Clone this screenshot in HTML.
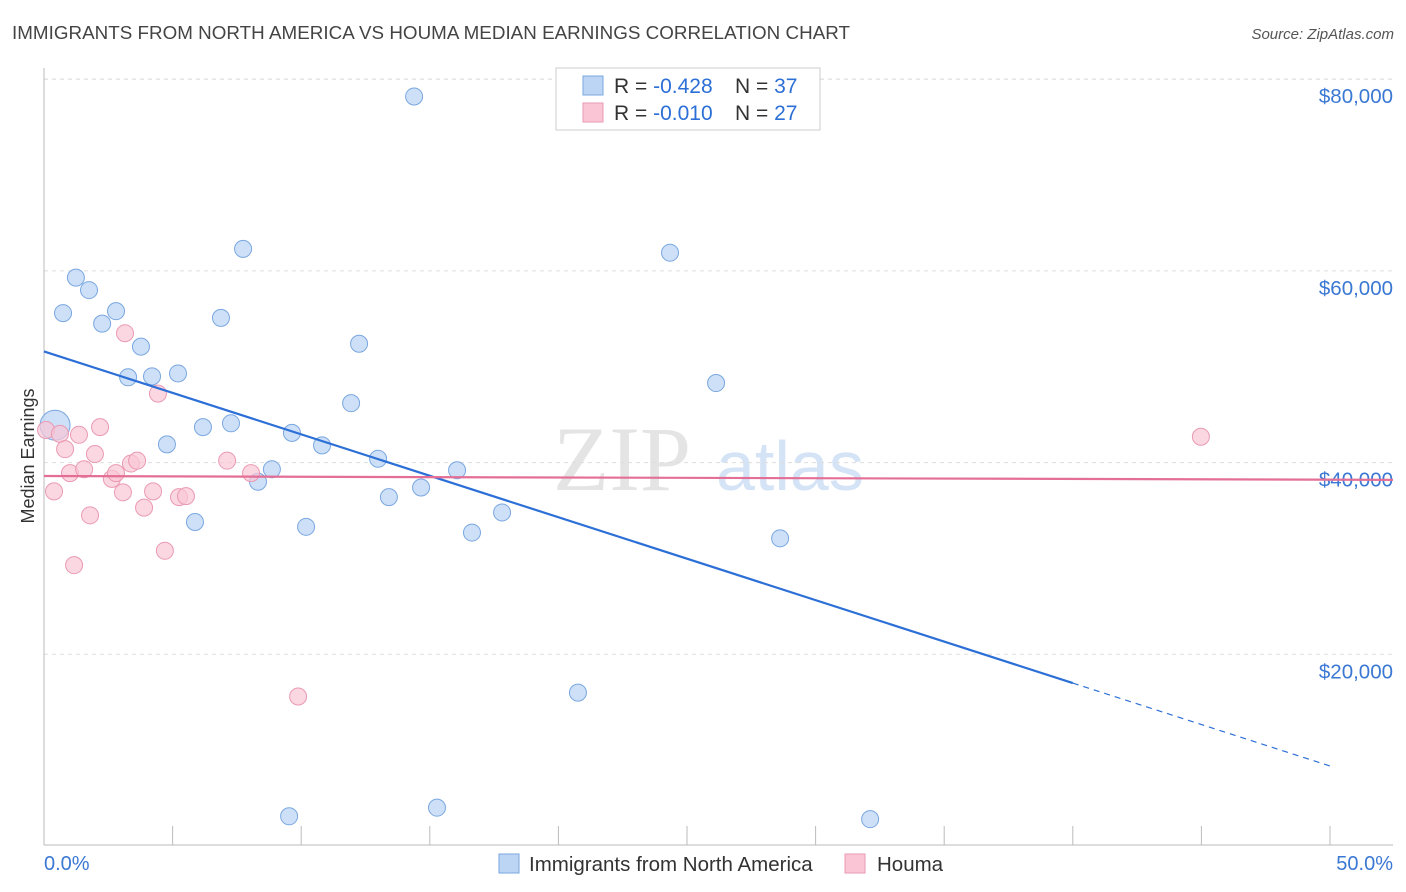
<!DOCTYPE html>
<html><head><meta charset="utf-8"><style>
body{margin:0;background:#fff;font-family:"Liberation Sans",sans-serif}
svg{display:block}
</style></head><body>
<svg id="chart" width="1406" height="892">
<text x="12" y="39" font-size="18.8" fill="#444" textLength="838">IMMIGRANTS FROM NORTH AMERICA VS HOUMA MEDIAN EARNINGS CORRELATION CHART</text>
<text x="1394" y="39" font-size="15" fill="#555" font-style="italic" text-anchor="end">Source: ZipAtlas.com</text>
<text x="0" y="0" font-size="18" fill="#333" transform="translate(34,456) rotate(-90)" text-anchor="middle">Median Earnings</text>
<g>
<text x="553" y="490" font-family="Liberation Serif,serif" font-size="92" fill="#e4e4e4">ZIP</text>
<text x="716" y="490" font-size="70" fill="#d4e3f5">atlas</text>
</g>
<g id="grid"></g><g id="axes"></g><g id="marks"></g>
<g>
<rect x="556" y="68" width="264" height="62" fill="#fff" stroke="#ccc"/>
<rect x="583" y="76" width="20" height="19" fill="#bcd5f5" stroke="#7aa7e0"/>
<rect x="583" y="103" width="20" height="19" fill="#fac6d6" stroke="#ea9ab3"/>
<text x="614" y="93" font-size="21" fill="#333">R = <tspan fill="#2c6fd6">-0.428</tspan><tspan x="735">N = </tspan><tspan fill="#2c6fd6">37</tspan></text>
<text x="614" y="120" font-size="21" fill="#333">R = <tspan fill="#2c6fd6">-0.010</tspan><tspan x="735">N = </tspan><tspan fill="#2c6fd6">27</tspan></text>
</g>
<g>
<rect x="499" y="854" width="20" height="19" fill="#bcd5f5" stroke="#7aa7e0"/>
<text x="529" y="871" font-size="20.5" fill="#333">Immigrants from North America</text>
<rect x="845" y="854" width="20" height="19" fill="#fac6d6" stroke="#ea9ab3"/>
<text x="877" y="871" font-size="20.5" fill="#333">Houma</text>
</g>
</svg>
<script>
const blueX=[0.43,0.74,1.24,1.75,2.26,2.80,3.27,3.77,4.20,4.78,5.21,5.87,6.18,6.88,7.27,7.74,8.32,8.86,9.53,9.64,10.19,10.81,11.94,12.25,12.99,13.41,14.39,14.66,15.28,16.06,16.64,17.81,20.76,24.34,26.13,28.62,32.12];
const blueY=[43.9,55.6,59.3,58.0,54.5,55.8,48.9,52.1,49.0,41.9,49.3,33.8,43.7,55.1,44.1,62.3,38.0,39.3,3.1,43.1,33.3,41.8,46.2,52.4,40.4,36.4,78.2,37.4,4.0,39.2,32.7,34.8,16.0,61.9,48.3,32.1,2.8];
const pinkX=[0.08,0.39,0.62,0.82,1.01,1.17,1.36,1.56,1.79,1.98,2.18,2.64,2.80,3.07,3.15,3.38,3.62,3.89,4.24,4.43,4.70,5.25,5.52,7.12,8.05,9.88,44.98];
const pinkY=[43.4,37.0,43.0,41.4,38.9,29.3,42.9,39.3,34.5,40.9,43.7,38.3,38.9,36.9,53.5,39.9,40.2,35.3,37.0,47.2,30.8,36.4,36.5,40.2,38.9,15.6,42.7];
const yTicks=[20,40,60,80];
const yTickLabels=["$20,000","$40,000","$60,000","$80,000"];
const blueLine=[51.6,17.0]; // fitted values at 0% and 40%
const pinkLine=[38.6,38.2]; // fitted values at 0% and 50%
const NS="http://www.w3.org/2000/svg";
const sx=p=>44+p*25.72, sy=v=>846-v*9.585;
function mk(t,a,parent){const e=document.createElementNS(NS,t);for(const k in a)e.setAttribute(k,a[k]);document.getElementById(parent).appendChild(e);return e;}
yTicks.forEach((t,i)=>{
 const g=mk('line',{x1:44,x2:1393,y1:sy(t),y2:sy(t),stroke:'#ddd','stroke-dasharray':'4,4'},'grid');
 
 
 const l=mk('text',{x:1393,y:sy(t)+24,'font-size':20.5,fill:'#3a78d4','text-anchor':'end'},'axes');
 l.textContent=yTickLabels[i];
 
 
});
mk('line',{x1:44,x2:1393,y1:79,y2:79,stroke:'#ddd','stroke-dasharray':'4,4'},'grid');
const ax=mk('line',{x1:44,x2:1393,y1:845,y2:845,stroke:'#bbb'},'axes');


const ay=mk('line',{x1:44,x2:44,y1:68,y2:845,stroke:'#bbb'},'axes');


for(let i=1;i<=10;i++){const t=mk('line',{x1:sx(i*5),x2:sx(i*5),y1:826,y2:845,stroke:'#bbb'},'axes');
 
 }
const x0=mk('text',{x:44,y:870,'font-size':20,fill:'#3a78d4'},'axes');x0.textContent='0.0%';


const x1=mk('text',{x:1393,y:870,'font-size':20,fill:'#3a78d4','text-anchor':'end'},'axes');x1.textContent='50.0%';


blueX.forEach((x,i)=>{const c=mk('circle',{cx:sx(x),cy:sy(blueY[i]),r:i==0?15:8.5,fill:'#bcd5f5','fill-opacity':0.75,stroke:'#7aa7e0','stroke-width':1},'marks');
 
 });
pinkX.forEach((x,i)=>{const c=mk('circle',{cx:sx(x),cy:sy(pinkY[i]),r:8.5,fill:'#fac6d6','fill-opacity':0.7,stroke:'#ea9ab3','stroke-width':1},'marks');
 
 });
const slope=(blueLine[1]-blueLine[0])/40;
const bl=mk('line',{x1:sx(0),y1:sy(blueLine[0]),x2:sx(40),y2:sy(blueLine[1]),stroke:'#2c6fd6','stroke-width':2.2},'marks');


const bd=mk('line',{x1:sx(40),y1:sy(blueLine[1]),x2:sx(50),y2:sy(blueLine[0]+slope*50),stroke:'#2c6fd6','stroke-width':1.2,'stroke-dasharray':'6,5'},'marks');


const pl=mk('line',{x1:sx(0),y1:sy(pinkLine[0]),x2:1393,y2:sy(pinkLine[1]),stroke:'#e46f96','stroke-width':2.2},'marks');


</script>
</body></html>
